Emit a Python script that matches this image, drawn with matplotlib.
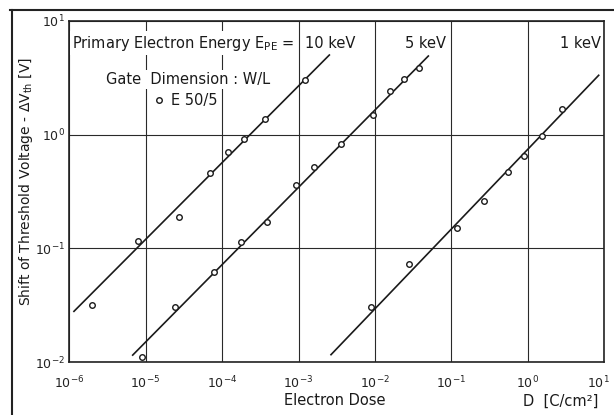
import numpy as np
import matplotlib.pyplot as plt
from matplotlib.lines import Line2D
from matplotlib.transforms import ScaledTranslation

# Measured threshold voltage shift vs. electron dose (gate E 50/5)
dose_10kev = [2.0e-6, 7.9e-6, 2.74e-5, 7.0e-5, 1.2e-4, 1.92e-4, 3.65e-4, 1.2e-3]
dvth_10kev = [0.032, 0.117, 0.188, 0.459, 0.70, 0.92, 1.38, 3.03]

dose_5kev = [9.1e-6, 2.41e-5, 7.94e-5, 1.75e-4, 3.9e-4, 9.3e-4, 1.61e-3,
             3.6e-3, 9.3e-3, 0.0157, 0.0239, 0.0378]
dvth_5kev = [0.011, 0.0305, 0.0614, 0.113, 0.169, 0.362, 0.518,
             0.83, 1.49, 2.43, 3.09, 3.84]

dose_1kev = [8.8e-3, 0.0276, 0.118, 0.266, 0.552, 0.887, 1.54, 2.81]
dvth_1kev = [0.0303, 0.0733, 0.150, 0.262, 0.468, 0.655, 0.98, 1.67]

# straight-line fits (end points on the log-log plot)
fit_10kev_x = [1.16e-6, 2.53e-3]
fit_10kev_y = [0.0279, 5.02]
fit_5kev_x = [6.8e-6, 0.0498]
fit_5kev_y = [0.0115, 4.92]
fit_1kev_x = [2.66e-3, 8.4]
fit_1kev_y = [0.0116, 3.33]

xticks = [1e-6, 1e-5, 1e-4, 1e-3, 1e-2, 1e-1, 1e0, 1e1]
yticks = [1e-2, 1e-1, 1e0, 1e1]

plt.rcParams['font.family'] = 'DejaVu Sans'
plt.rcParams['mathtext.fontset'] = 'dejavusans'

fig = plt.figure(figsize=(6.14, 4.15), dpi=100)
ax = fig.add_axes([0.1124, 0.1277, 0.8721, 0.8217])

ax.set_xscale('log')
ax.set_yscale('log')
ax.set_xlim(1e-6, 1e1)
ax.set_ylim(1e-2, 1e1)
ax.set_xticks(xticks)
ax.set_yticks(yticks)
ax.minorticks_off()
ax.grid(True, color='#2a2a2a', lw=0.8)
ax.tick_params(length=0, labelsize=9, colors='#222222')
ax.tick_params(axis='x', pad=9)
ax.tick_params(axis='y', pad=3)
for s in ax.spines.values():
    s.set_linewidth(1.2)
    s.set_color('#222222')

# pull the last x label in a little so it stays on the page
last = ax.get_xticklabels()[-1]
last.set_transform(last.get_transform() + ScaledTranslation(-0.06, 0, fig.dpi_scale_trans))

ink = '#1a1a1a'
for fx, fy in [(fit_10kev_x, fit_10kev_y), (fit_5kev_x, fit_5kev_y), (fit_1kev_x, fit_1kev_y)]:
    ax.plot(fx, fy, color=ink, lw=1.2, zorder=3)

mk = dict(ls='none', marker='o', ms=4, mfc='white', mec=ink, mew=1.0, zorder=4, clip_on=False)
ax.plot(dose_10kev, dvth_10kev, **mk)
ax.plot(dose_5kev, dvth_5kev, **mk)
ax.plot(dose_1kev, dvth_1kev, **mk)

# annotations
fs = 10.5
box = dict(facecolor='white', edgecolor='none', pad=1.5)
ax.text(1.1e-6, 6.4, r'Primary Electron Energy E$_{\rm PE}$ =', fontsize=fs,
        color=ink, va='center', ha='left', bbox=box, zorder=5)
ax.text(1.22e-3, 6.4, '10 keV', fontsize=fs, color=ink, va='center', ha='left', zorder=5)
ax.text(8.6e-2, 6.4, '5 keV', fontsize=fs, color=ink, va='center', ha='right', zorder=5)
ax.text(9.0, 6.4, '1 keV', fontsize=fs, color=ink, va='center', ha='right', zorder=5)
ax.text(3.0e-6, 3.05, 'Gate  Dimension : W/L', fontsize=fs, color=ink,
        va='center', ha='left', bbox=box, zorder=5)
ax.legend(handles=[Line2D([], [], ls='none', marker='o', ms=4, mfc='white', mec=ink, mew=1.0)],
          labels=['E 50/5'], loc='center', bbox_to_anchor=(0.218, 0.768),
          frameon=True, fancybox=False, edgecolor='none', framealpha=1,
          handlelength=0.6, handletextpad=0.5, borderpad=0.1, fontsize=fs,
          labelcolor=ink)

ax.set_ylabel(r'Shift of Threshold Voltage - $\Delta$V$_{\rm th}$ [V]', fontsize=10,
              color=ink)
ax.yaxis.set_label_coords(-0.064, 0.53)
fig.text(0.545, 0.034, 'Electron Dose', fontsize=fs, color=ink, ha='center', va='center')
fig.text(0.974, 0.034, 'D  [C/cm²]', fontsize=fs, color=ink, ha='right', va='center')

# page frame
fig.add_artist(Line2D([0.016, 1.0], [0.976, 0.976], color='#222222', lw=1.5))
fig.add_artist(Line2D([0.0195, 0.0195], [0.0, 0.976], color='#222222', lw=1.5))

fig.savefig('out.png', dpi=100)
